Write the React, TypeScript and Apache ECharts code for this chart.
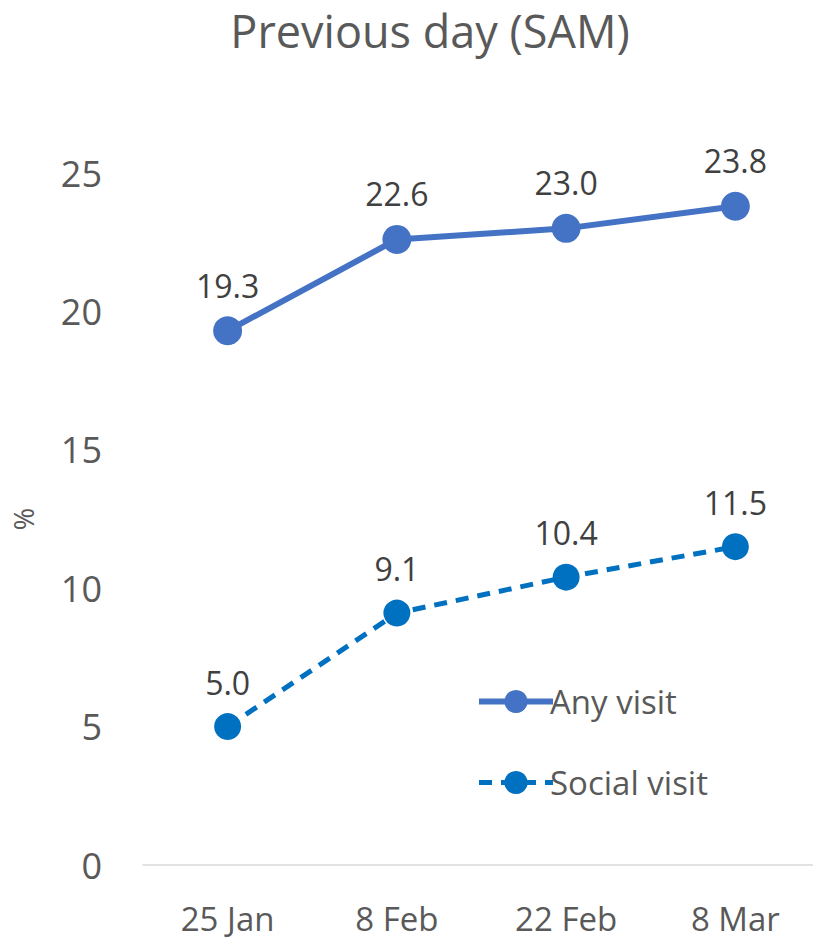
import React, { useEffect, useRef } from "react";
import * as echarts from "echarts";

const categories = ["25 Jan", "8 Feb", "22 Feb", "8 Mar"];
const anyVisit = [19.3, 22.6, 23.0, 23.8];
const socialVisit = [5.0, 9.1, 10.4, 11.5];
const seriesNames = ["Any visit", "Social visit"];
const titleText = "Previous day (SAM)";
const yAxisName = "%";

const FONT = "'Open Sans', 'Noto Sans', sans-serif";
const GREY = "#595959";
const C1 = "#4472C4";
const C2 = "#0070C0";

export default function App() {
  const ref = useRef<HTMLDivElement>(null);
  useEffect(() => {
    if (!ref.current) return;
    const chart = echarts.init(ref.current, null, { renderer: "svg" });
    const labelCfg = {
      show: true,
      position: "top",
      distance: 15,
      formatter: (p: any) => p.value.toFixed(1),
      fontFamily: FONT,
      fontSize: 32,
      color: "#404040",
    };
    chart.setOption({
      animation: false,
      textStyle: { fontFamily: FONT },
      title: {
        text: titleText,
        left: 430,
        top: 8,
        padding: 0,
        textAlign: "center",
        textStyle: { fontFamily: FONT, fontSize: 45, lineHeight: 45, fontWeight: "normal", color: GREY },
      },
      legend: {
        orient: "vertical",
        left: 471,
        top: 680,
        itemWidth: 74,
        itemHeight: 29,
        itemGap: 48,
        data: [
          { name: seriesNames[0], lineStyle: { width: 6, color: C1 } },
          { name: seriesNames[1], lineStyle: { width: 5, color: C2, type: [13, 9] } },
        ],
        textStyle: { fontFamily: FONT, fontSize: 33, color: GREY, padding: [0, 0, 0, -8] },
      },
      grid: { left: 143, top: 173, width: 677, height: 692, containLabel: false },
      xAxis: {
        type: "category",
        data: categories,
        boundaryGap: true,
        axisLine: { show: true, lineStyle: { color: "#d9d9d9", width: 1.5 } },
        axisTick: { show: false },
        axisLabel: { fontFamily: FONT, fontSize: 33, color: GREY, margin: 37 },
      },
      yAxis: {
        type: "value",
        min: 0,
        max: 25,
        interval: 5,
        name: yAxisName,
        nameLocation: "middle",
        nameGap: 106,
        nameRotate: 90,
        nameTextStyle: { fontFamily: FONT, fontSize: 27, color: GREY },
        axisLine: { show: false },
        axisTick: { show: false },
        splitLine: { show: false },
        axisLabel: { fontFamily: FONT, fontSize: 36, color: GREY, margin: 41 },
      },
      series: [
        {
          name: seriesNames[0],
          type: "line",
          data: anyVisit,
          symbol: "circle",
          symbolSize: 29,
          itemStyle: { color: C1 },
          lineStyle: { color: C1, width: 6 },
          label: labelCfg,
        },
        {
          name: seriesNames[1],
          type: "line",
          data: socialVisit,
          symbol: "circle",
          symbolSize: 27,
          itemStyle: { color: C2 },
          lineStyle: { color: C2, width: 5, type: [13, 9] },
          label: labelCfg,
        },
      ],
    });
    return () => chart.dispose();
  }, []);
  return (
    <div style={{ position: "fixed", left: 0, top: 0, width: 813, height: 940, overflow: "hidden", background: "#fff" }}>
      <div ref={ref} style={{ width: 830, height: 940 }} />
    </div>
  );
}
